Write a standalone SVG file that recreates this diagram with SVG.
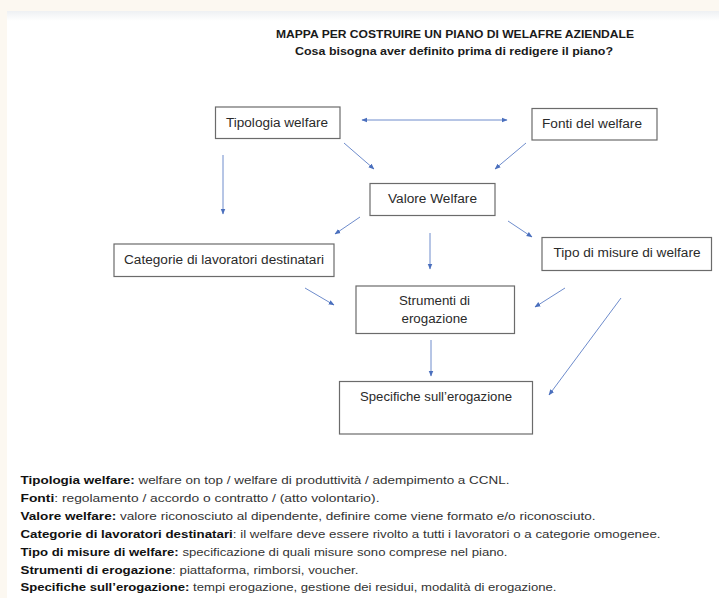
<svg xmlns="http://www.w3.org/2000/svg" width="719" height="598" viewBox="0 0 719 598">
<defs>
<linearGradient id="shadow" x1="0" y1="0" x2="0" y2="1">
<stop offset="0" stop-color="#eef0f3"/>
<stop offset="1" stop-color="#ffffff"/>
</linearGradient>
<marker id="ah" viewBox="0 0 10 10" refX="9" refY="5" markerWidth="6" markerHeight="6" orient="auto-start-reverse" markerUnits="userSpaceOnUse">
<path d="M0,1 L10,5 L0,9 z" fill="#4a6fbd"/>
</marker>
<style>
.box{fill:#ffffff;stroke:#6b6b6b;stroke-width:1.2}
.lbl{font-family:"Liberation Sans",Arial,sans-serif;font-size:12.5px;fill:#2a2a2a;text-anchor:middle}
.ttl{font-family:"Liberation Sans",Arial,sans-serif;font-size:11px;font-weight:bold;fill:#1a1a1a;text-anchor:middle}
.leg{font-family:"Liberation Sans",Arial,sans-serif;font-size:11.5px;fill:#333333}
.leg .b{font-weight:bold;fill:#111111}
.con line{stroke:#6e8ccc;stroke-width:1;marker-end:url(#ah)}
</style>
</defs>
<rect x="0" y="0" width="719" height="598" fill="#ffffff"/>
<rect x="0" y="0" width="719" height="11" fill="#fcf8f1"/>
<rect x="0" y="11" width="719" height="10" fill="url(#shadow)"/>
<rect x="0" y="0" width="7" height="598" fill="#fcf8f1"/>

<g id="title">
<text class="ttl" x="455" y="38" textLength="358" lengthAdjust="spacingAndGlyphs">MAPPA PER COSTRUIRE UN PIANO DI WELAFRE AZIENDALE</text>
<text class="ttl" x="454" y="55" textLength="318" lengthAdjust="spacingAndGlyphs">Cosa bisogna aver definito prima di redigere il piano?</text>
</g>

<g id="connectors" class="con">
<line x1="362" y1="120" x2="507" y2="120" marker-start="url(#ah)"/>
<line x1="344" y1="143" x2="374" y2="169"/>
<line x1="526" y1="143" x2="495" y2="169"/>
<line x1="223" y1="155" x2="223" y2="214"/>
<line x1="360" y1="217" x2="335" y2="234"/>
<line x1="430" y1="233" x2="430" y2="269"/>
<line x1="508" y1="221" x2="532" y2="237"/>
<line x1="305" y1="288" x2="334" y2="305"/>
<line x1="565" y1="288" x2="535" y2="307"/>
<line x1="431" y1="340" x2="431" y2="376"/>
<line x1="621" y1="298" x2="549" y2="395"/>
</g>

<g id="n-tipologia">
<rect class="box" x="215.5" y="107" width="124.5" height="31.5"/>
<text class="lbl" x="277" y="126.5" textLength="102" lengthAdjust="spacingAndGlyphs">Tipologia welfare</text>
</g>
<g id="n-fonti">
<rect class="box" x="532" y="108.5" width="125" height="31.5"/>
<text class="lbl" x="592" y="127.5" textLength="100" lengthAdjust="spacingAndGlyphs">Fonti del welfare</text>
</g>
<g id="n-valore">
<rect class="box" x="370" y="183.5" width="125" height="32"/>
<text class="lbl" x="432.5" y="203" textLength="89" lengthAdjust="spacingAndGlyphs">Valore Welfare</text>
</g>
<g id="n-categorie">
<rect class="box" x="114" y="244" width="220" height="32.5"/>
<text class="lbl" x="224" y="264" textLength="200" lengthAdjust="spacingAndGlyphs">Categorie di lavoratori destinatari</text>
</g>
<g id="n-tipo">
<rect class="box" x="542" y="237.5" width="169.5" height="33"/>
<text class="lbl" x="627" y="257" textLength="147" lengthAdjust="spacingAndGlyphs">Tipo di misure di welfare</text>
</g>
<g id="n-strumenti">
<rect class="box" x="356" y="286" width="158.5" height="47.5"/>
<text class="lbl" x="434.5" y="304.5" textLength="71" lengthAdjust="spacingAndGlyphs">Strumenti di</text>
<text class="lbl" x="434.5" y="323" textLength="66" lengthAdjust="spacingAndGlyphs">erogazione</text>
</g>
<g id="n-specifiche">
<rect class="box" x="339.5" y="381.5" width="193" height="52.5"/>
<text class="lbl" x="436" y="401" textLength="152" lengthAdjust="spacingAndGlyphs">Specifiche sull’erogazione</text>
</g>

<g id="legend" class="leg">
<text x="20.5" y="484" textLength="489" lengthAdjust="spacingAndGlyphs"><tspan class="b">Tipologia welfare:</tspan> welfare on top / welfare di produttività / adempimento a CCNL.</text>
<text x="20.5" y="502" textLength="359" lengthAdjust="spacingAndGlyphs"><tspan class="b">Fonti</tspan>: regolamento / accordo o contratto / (atto volontario).</text>
<text x="20.5" y="520" textLength="575" lengthAdjust="spacingAndGlyphs"><tspan class="b">Valore welfare:</tspan> valore riconosciuto al dipendente, definire come viene formato e/o riconosciuto.</text>
<text x="20.5" y="537.5" textLength="640" lengthAdjust="spacingAndGlyphs"><tspan class="b">Categorie di lavoratori destinatari</tspan>: il welfare deve essere rivolto a tutti i lavoratori o a categorie omogenee.</text>
<text x="20.5" y="555.5" textLength="487" lengthAdjust="spacingAndGlyphs"><tspan class="b">Tipo di misure di welfare:</tspan> specificazione di quali misure sono comprese nel piano.</text>
<text x="20.5" y="573.5" textLength="338" lengthAdjust="spacingAndGlyphs"><tspan class="b">Strumenti di erogazione</tspan>: piattaforma, rimborsi, voucher.</text>
<text x="20.5" y="591" textLength="536" lengthAdjust="spacingAndGlyphs"><tspan class="b">Specifiche sull’erogazione:</tspan> tempi erogazione, gestione dei residui, modalità di erogazione.</text>
</g>
</svg>
